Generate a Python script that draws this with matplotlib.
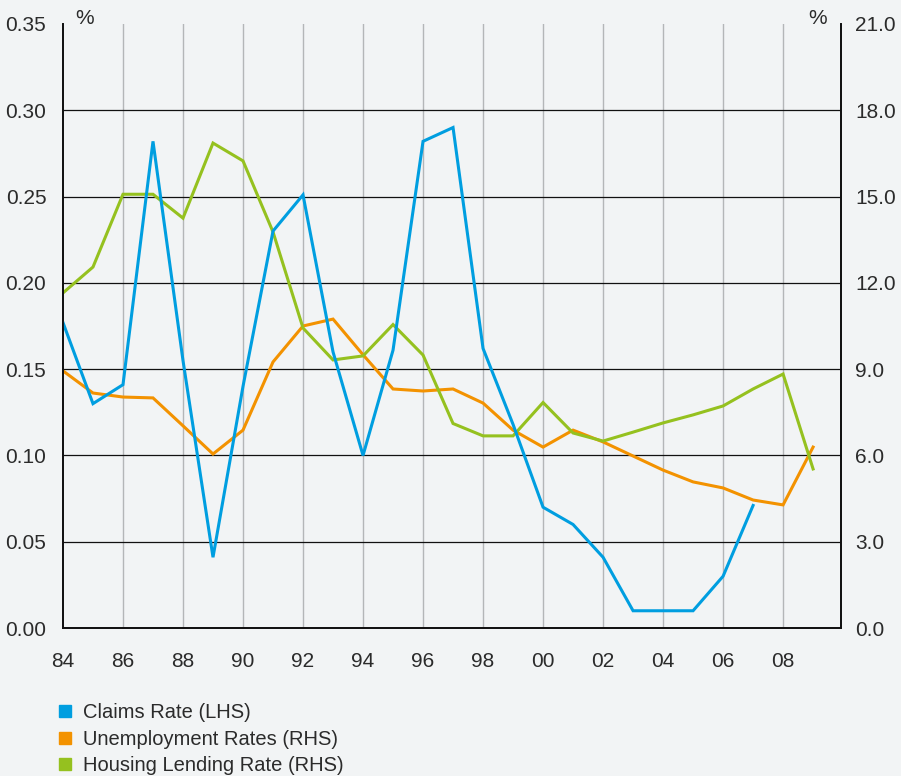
import matplotlib.pyplot as plt
from matplotlib.lines import Line2D

plt.rcParams['font.family'] = ['Liberation Sans', 'DejaVu Sans']

# yearly series, 1984-2009
years = list(range(1984, 2010))
claims_rate = [0.177, 0.130, 0.141, 0.282, 0.155, 0.041, 0.140, 0.230, 0.251, 0.160,
               0.100, 0.161, 0.282, 0.290, 0.162, 0.118, 0.070, 0.060, 0.041, 0.010,
               0.010, 0.010, 0.030, 0.071]
unemployment = [8.94, 8.17, 8.03, 8.00, 7.03, 6.05, 6.88, 9.25, 10.50, 10.74,
                9.50, 8.31, 8.24, 8.31, 7.82, 6.88, 6.29, 6.88, 6.47, 5.98,
                5.49, 5.08, 4.87, 4.45, 4.28, 6.29]
housing_lending = [11.65, 12.55, 15.08, 15.08, 14.25, 16.86, 16.24, 13.77, 10.43, 9.32,
                   9.46, 10.55, 9.49, 7.11, 6.68, 6.68, 7.84, 6.78, 6.50, 6.81,
                   7.13, 7.41, 7.72, 8.31, 8.83, 5.53]

x_ticks = list(range(1984, 2009, 2))
x_labels = [f"{y % 100:02d}" for y in x_ticks]
left_ticks = [0.00, 0.05, 0.10, 0.15, 0.20, 0.25, 0.30, 0.35]
right_ticks = [0.0, 3.0, 6.0, 9.0, 12.0, 15.0, 18.0, 21.0]

BLUE = '#009ee0'
ORANGE = '#f39200'
GREEN = '#95c11f'
BG = '#f2f4f5'
TXT = '#2b2b2b'
FS = 15

fig = plt.figure(figsize=(9.01, 7.76), dpi=100, facecolor=BG)
ax = fig.add_axes([0.0699, 0.1907, 0.8635, 0.7784])
ax2 = ax.twinx()

# right axis sits underneath and carries the grid
ax2.set_facecolor(BG)
ax.set_zorder(ax2.get_zorder() + 1)
ax.patch.set_visible(False)

ax2.plot(years, unemployment, color=ORANGE, lw=2.2, solid_joinstyle='miter')
ax2.plot(years, housing_lending, color=GREEN, lw=2.2, solid_joinstyle='miter')
ax.plot(years[:len(claims_rate)], claims_rate, color=BLUE, lw=2.2, solid_joinstyle='miter')

ax.set_xlim(1984, 2009.93)
ax.set_ylim(0, 0.35)
ax2.set_ylim(0, 21)

ax.set_xticks(x_ticks)
ax.set_xticklabels(x_labels)
ax.set_yticks(left_ticks)
ax.set_yticklabels([f"{v:.2f}" for v in left_ticks])
ax2.set_yticks(right_ticks)
ax2.set_yticklabels([f"{v:.1f}" for v in right_ticks])

for a in (ax, ax2):
    a.spines['top'].set_visible(False)
    for s in ('left', 'right', 'bottom'):
        a.spines[s].set_linewidth(1.3)
        a.spines[s].set_color('#111111')

ax.tick_params(axis='x', length=0, pad=17, labelsize=FS, labelcolor=TXT)
ax.tick_params(axis='y', length=0, pad=12, labelsize=FS, labelcolor=TXT)
ax2.tick_params(axis='y', length=0, pad=10, labelsize=FS, labelcolor=TXT)

# grid drawn on the lower axes so the series stay above it
for v in right_ticks[1:-1]:
    ax2.axhline(v, color='#111111', lw=0.9, zorder=0.5)
for v in x_ticks[1:]:
    ax2.axvline(v, color='#b4b6b8', lw=1.0, zorder=0.4)

fig.text(85 / 901, 1 - 18 / 776, '%', fontsize=FS, color=TXT, ha='center', va='center')
fig.text(818 / 901, 1 - 18 / 776, '%', fontsize=FS, color=TXT, ha='center', va='center')

handles = [Line2D([], [], ls='none', marker='s', markersize=9, color=c)
           for c in (BLUE, ORANGE, GREEN)]
labels = ['Claims Rate (LHS)', 'Unemployment Rates (RHS)', 'Housing Lending Rate (RHS)']
fig.legend(handles, labels, loc='upper left', bbox_to_anchor=(0.052, 0.1065),
           frameon=False, fontsize=14.5, handlelength=0.8, handletextpad=0.5,
           labelspacing=0.36, borderpad=0, labelcolor=TXT)

fig.savefig('out.png', dpi=100, facecolor=BG)
